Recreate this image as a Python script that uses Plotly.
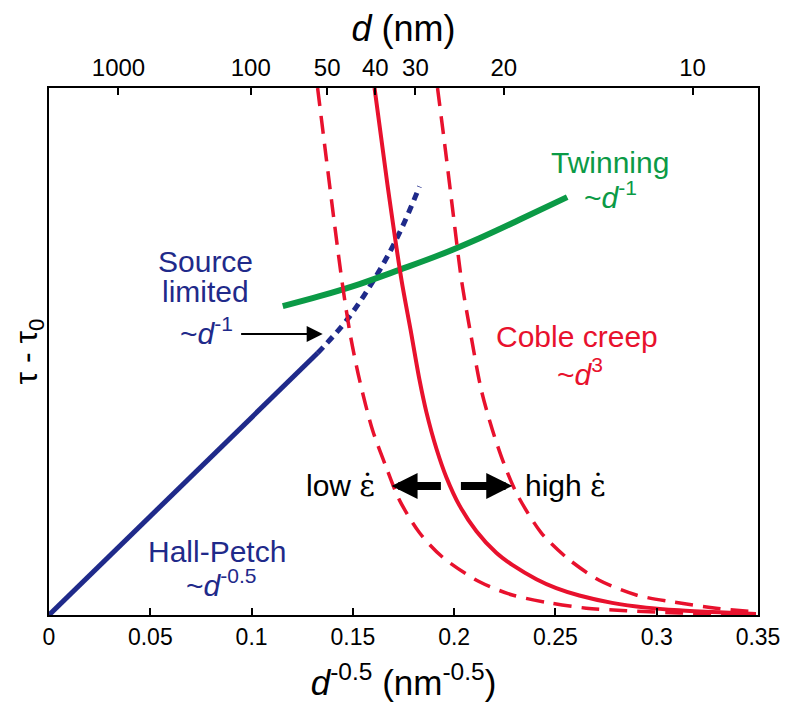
import plotly.graph_objects as go

# ---- data (x = d^-0.5 in nm^-0.5, y = tau - tau0 in arbitrary units) ----
hp_x = [0.0, 0.1326]
hp_y = [0.0, 4.97]

src_x = [0.1326, 0.1475, 0.1621, 0.1730, 0.1829]
src_y = [4.97, 5.62, 6.47, 7.25, 8.13]

twin_x = [0.1154, 0.1336, 0.1533, 0.1730, 0.1927, 0.2125, 0.2322, 0.2558]
twin_y = [5.86, 6.05, 6.28, 6.55, 6.83, 7.15, 7.50, 7.93]

coble_x = [0.1607, 0.1671, 0.1740, 0.1785, 0.1829, 0.1863, 0.1913, 0.1962,
           0.2026, 0.2110, 0.2208, 0.2287, 0.2406, 0.2504, 0.2618, 0.2780,
           0.2948, 0.3111, 0.3308, 0.3490]
coble_y = [10.0, 8.16, 6.36, 5.41, 4.46, 3.85, 3.15, 2.61,
           2.08, 1.59, 1.18, 0.95, 0.68, 0.51, 0.37, 0.23,
           0.14, 0.09, 0.05, 0.02]

low_x = [0.1326, 0.1370, 0.1410, 0.1449, 0.1489, 0.1533, 0.1597, 0.1666,
         0.1730, 0.1829, 0.1942, 0.2125, 0.2287, 0.2470, 0.2652, 0.2849,
         0.3111, 0.3490]
low_y = [10.0, 8.63, 7.40, 6.26, 5.28, 4.46, 3.51, 2.79,
         2.18, 1.56, 1.10, 0.63, 0.38, 0.23, 0.13, 0.08,
         0.04, 0.02]

high_x = [0.1918, 0.1957, 0.1996, 0.2036, 0.2080, 0.2134, 0.2189, 0.2248,
          0.2312, 0.2430, 0.2558, 0.2716, 0.2899, 0.3076, 0.3293, 0.3490]
high_y = [10.0, 8.82, 7.59, 6.36, 5.37, 4.27, 3.51, 2.85,
          2.28, 1.56, 1.08, 0.66, 0.38, 0.25, 0.13, 0.06]

bottom_ticks = [0, 0.05, 0.1, 0.15, 0.2, 0.25, 0.3, 0.35]
bottom_labels = ["0", "0.05", "0.1", "0.15", "0.2", "0.25", "0.3", "0.35"]
top_labels = ["1000", "100", "50", "40", "30", "20", "10"]
top_tick_pos = [0.0343, 0.0996, 0.1373, 0.1611, 0.1809, 0.2245, 0.3177]

BLUE = "#1f2a8a"
GREEN = "#0b9a46"
RED = "#e8112d"
FONT = "Arial, Liberation Sans, sans-serif"
EPS = '<span style="font-family:DejaVu Serif">\u03b5\u0307</span>'

fig = go.Figure()
fig.add_trace(go.Scatter(x=hp_x, y=hp_y, mode="lines",
                         line=dict(color=BLUE, width=5), showlegend=False))
fig.add_trace(go.Scatter(x=src_x, y=src_y, mode="lines", line_shape="spline",
                         line=dict(color=BLUE, width=5, dash="8px,6px"), showlegend=False))
fig.add_trace(go.Scatter(x=twin_x, y=twin_y, mode="lines", line_shape="spline",
                         line=dict(color=GREEN, width=6), showlegend=False))
fig.add_trace(go.Scatter(x=low_x, y=low_y, mode="lines", line_shape="spline",
                         line=dict(color=RED, width=3.5, dash="18px,10px", smoothing=0.8),
                         showlegend=False))
fig.add_trace(go.Scatter(x=high_x, y=high_y, mode="lines", line_shape="spline",
                         line=dict(color=RED, width=3.5, dash="18px,10px", smoothing=0.8),
                         showlegend=False))
fig.add_trace(go.Scatter(x=coble_x, y=coble_y, mode="lines", line_shape="spline",
                         line=dict(color=RED, width=4, smoothing=0.8), showlegend=False))
# invisible trace to activate top axis
fig.add_trace(go.Scatter(x=[0, 0.35], y=[0, 0], xaxis="x2", mode="lines",
                         line=dict(width=0), hoverinfo="skip", showlegend=False))

def txt(x, y, s, color, size=30, xanchor="center"):
    fig.add_annotation(x=x, y=y, text=s, showarrow=False, xanchor=xanchor,
                       yanchor="middle", font=dict(family=FONT, size=size, color=color))

txt(0.0774, 6.70, "Source", BLUE)
txt(0.0774, 6.13, "limited", BLUE)
txt(0.0779, 5.39, "~<i>d</i><sup>-1</sup>", BLUE)
txt(0.2770, 8.58, "Twinning", GREEN)
txt(0.2770, 7.97, "~<i>d</i><sup>-1</sup>", GREEN)
txt(0.2608, 5.28, "Coble creep", RED)
txt(0.2620, 4.61, "~<i>d</i><sup>3</sup>", RED)
txt(0.0828, 1.20, "Hall-Petch", BLUE)
txt(0.0850, 0.60, "~<i>d</i><sup>-0.5</sup>", BLUE)
txt(0.1621, 2.45, "low " + EPS, "black", xanchor="right")
txt(0.2341, 2.45, "high " + EPS, "black", xanchor="left")

# arrows
fig.add_annotation(x=0.1351, y=5.33, ax=0.0941, ay=5.33, axref="x", ayref="y",
                   xref="x", yref="y", text="", showarrow=True, arrowhead=2,
                   arrowsize=1.6, arrowwidth=2, arrowcolor="black")
fig.add_annotation(x=0.1691, y=2.45, ax=0.1942, ay=2.45, axref="x", ayref="y",
                   xref="x", yref="y", text="", showarrow=True, arrowhead=2,
                   arrowsize=0.65, arrowwidth=8, arrowcolor="black")
fig.add_annotation(x=0.2287, y=2.45, ax=0.2026, ay=2.45, axref="x", ayref="y",
                   xref="x", yref="y", text="", showarrow=True, arrowhead=2,
                   arrowsize=0.65, arrowwidth=8, arrowcolor="black")

fig.update_layout(
    width=781, height=695,
    margin=dict(l=41, r=31, t=80, b=88),
    plot_bgcolor="white", paper_bgcolor="white",
    font=dict(family=FONT, color="black"),
    xaxis=dict(range=[0, 0.35], tickvals=bottom_ticks, ticktext=bottom_labels,
               ticks="inside", ticklen=7, tickwidth=2, tickcolor="black",
               showline=True, linewidth=2, linecolor="black", mirror=True,
               showgrid=False, zeroline=False, automargin=False,
               tickfont=dict(size=23, family=FONT),
               title=dict(text="<i>d</i><sup>-0.5</sup> (nm<sup>-0.5</sup>)",
                          font=dict(size=35, family=FONT), standoff=22)),
    xaxis2=dict(range=[0, 0.35], overlaying="x", side="top", anchor="y",
                tickvals=top_tick_pos, ticktext=top_labels,
                ticks="inside", ticklen=7, tickwidth=2, tickcolor="black",
                showline=True, linewidth=2, linecolor="black",
                showgrid=False, zeroline=False, automargin=False,
                tickfont=dict(size=24, family=FONT),
                title=dict(text="<i>d</i> (nm)", font=dict(size=36, family=FONT),
                           standoff=6)),
    yaxis=dict(range=[0, 10], showticklabels=False, ticks="",
               showline=True, linewidth=2, linecolor="black", mirror=True,
               showgrid=False, zeroline=False, automargin=False,
               title=dict(text="\u03c4 - \u03c4<sub>0</sub>",
                          font=dict(size=32, family=FONT), standoff=4)),
)

fig.write_html("out.html")
